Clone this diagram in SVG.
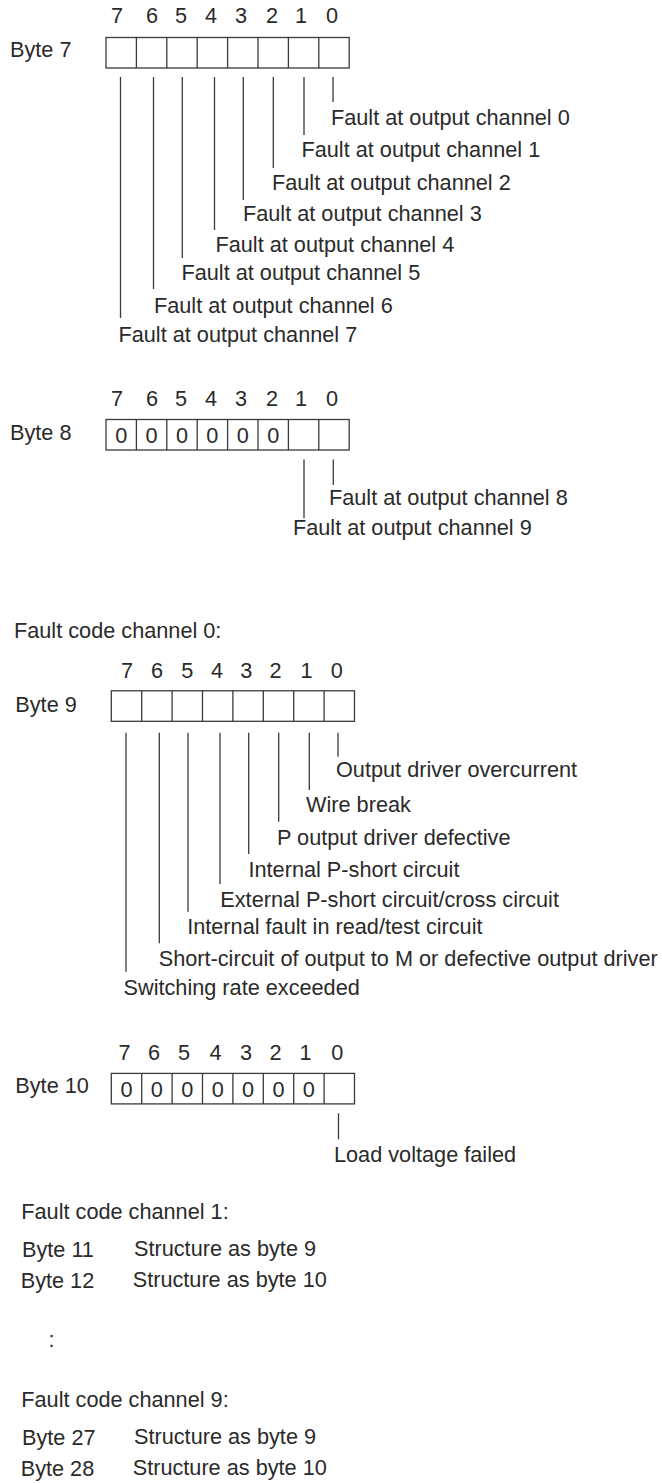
<svg xmlns="http://www.w3.org/2000/svg" width="662" height="1483" viewBox="0 0 662 1483">
<style>
text{font-family:"Liberation Sans",Arial,sans-serif;font-size:21.7px;fill:#2a2a2a}
.n{text-anchor:middle}
.box{fill:none;stroke:#3a3a3a;stroke-width:1.3}
.ln{stroke:#3a3a3a;stroke-width:1.3;fill:none}
</style>
<rect width="662" height="1483" fill="#ffffff"/>

<!-- Byte 7 -->
<g id="byte7">
<text x="10" y="57">Byte 7</text>
<g class="n"><text x="117" y="23">7</text><text x="152" y="23">6</text><text x="181" y="23">5</text><text x="211" y="23">4</text><text x="241" y="23">3</text><text x="272" y="23">2</text><text x="301" y="23">1</text><text x="332" y="23">0</text></g>
<rect class="box" x="106" y="37.5" width="243.2" height="30.5"/>
<path class="ln" d="M136.4 37.5V68M166.8 37.5V68M197.2 37.5V68M227.6 37.5V68M258 37.5V68M288.4 37.5V68M318.8 37.5V68"/>
</g>
<g id="byte7-labels">
<text x="331" y="125">Fault at output channel 0</text>
<text x="301.5" y="157">Fault at output channel 1</text>
<text x="272" y="190">Fault at output channel 2</text>
<text x="243" y="221">Fault at output channel 3</text>
<text x="215.5" y="252">Fault at output channel 4</text>
<text x="181.5" y="280">Fault at output channel 5</text>
<text x="154" y="313">Fault at output channel 6</text>
<text x="118.5" y="342">Fault at output channel 7</text>
</g>

<!-- Byte 8 -->
<g id="byte8">
<text x="10" y="440">Byte 8</text>
<g class="n"><text x="117" y="406">7</text><text x="152" y="406">6</text><text x="181" y="406">5</text><text x="211" y="406">4</text><text x="241" y="406">3</text><text x="272" y="406">2</text><text x="301" y="406">1</text><text x="332" y="406">0</text></g>
<rect class="box" x="106" y="419.5" width="243.2" height="30.5"/>
<path class="ln" d="M136.4 419.5V450M166.8 419.5V450M197.2 419.5V450M227.6 419.5V450M258 419.5V450M288.4 419.5V450M318.8 419.5V450"/>
<g class="n"><text x="121.2" y="443.3">0</text><text x="151.6" y="443.3">0</text><text x="182" y="443.3">0</text><text x="212.4" y="443.3">0</text><text x="242.8" y="443.3">0</text><text x="273.2" y="443.3">0</text></g>
</g>
<g id="byte8-labels">
<text x="329" y="505">Fault at output channel 8</text>
<text x="293" y="535">Fault at output channel 9</text>
</g>

<!-- Byte 9 -->
<g id="channel0-title"><text x="14" y="638.3">Fault code channel 0:</text></g>
<g id="byte9">
<text x="15.3" y="711.7">Byte 9</text>
<g class="n"><text x="127" y="678.3">7</text><text x="157" y="678.3">6</text><text x="187.3" y="678.3">5</text><text x="217" y="678.3">4</text><text x="246.3" y="678.3">3</text><text x="275.5" y="678.3">2</text><text x="306.5" y="678.3">1</text><text x="336.7" y="678.3">0</text></g>
<rect class="box" x="111.3" y="690.8" width="243.2" height="30.5"/>
<path class="ln" d="M141.7 690.8V721.3M172.1 690.8V721.3M202.5 690.8V721.3M232.9 690.8V721.3M263.3 690.8V721.3M293.7 690.8V721.3M324.1 690.8V721.3"/>
</g>
<g id="byte9-labels">
<text x="336" y="776.7">Output driver overcurrent</text>
<text x="306" y="811.7">Wire break</text>
<text x="277" y="845">P output driver defective</text>
<text x="248.5" y="876.7">Internal P-short circuit</text>
<text x="220.3" y="906.7">External P-short circuit/cross circuit</text>
<text x="187.2" y="934">Internal fault in read/test circuit</text>
<text x="158.7" y="966">Short-circuit of output to M or defective output driver</text>
<text x="123.5" y="995">Switching rate exceeded</text>
</g>

<!-- Byte 10 -->
<g id="byte10">
<text x="15.3" y="1093.3">Byte 10</text>
<g class="n"><text x="124.5" y="1060">7</text><text x="154" y="1060">6</text><text x="184" y="1060">5</text><text x="215.5" y="1060">4</text><text x="246" y="1060">3</text><text x="275.5" y="1060">2</text><text x="305.5" y="1060">1</text><text x="337.3" y="1060">0</text></g>
<rect class="box" x="111.3" y="1073.4" width="243.2" height="30.5"/>
<path class="ln" d="M141.7 1073.4V1103.9M172.1 1073.4V1103.9M202.5 1073.4V1103.9M232.9 1073.4V1103.9M263.3 1073.4V1103.9M293.7 1073.4V1103.9M324.1 1073.4V1103.9"/>
<g class="n"><text x="126.5" y="1096.8">0</text><text x="156.9" y="1096.8">0</text><text x="187.3" y="1096.8">0</text><text x="217.7" y="1096.8">0</text><text x="248.1" y="1096.8">0</text><text x="278.5" y="1096.8">0</text><text x="308.9" y="1096.8">0</text></g>
</g>
<g id="byte10-labels"><text x="334" y="1161.7">Load voltage failed</text></g>

<!-- connectors -->
<g id="connectors" class="ln">
<path d="M120.5 77V318M153.5 77V289M182.3 77V258M214.5 77V230M243.3 77V200M273.3 77V168M304 77V135M333 77V102"/>
<path d="M304 459.5V518.3M333.3 459.5V485"/>
<path d="M126 732.7V971.7M159.3 732.7V943.3M188 732.7V911.7M220 732.7V884M248.7 732.7V854M278.7 732.7V821.7M309.3 732.7V790M338 732.7V756.7"/>
<path d="M338.5 1113.3V1139.3"/>
</g>

<!-- following channels -->
<g id="channel1">
<text x="21.3" y="1219.3">Fault code channel 1:</text>
<text x="22" y="1256.7">Byte 11</text>
<text x="134" y="1256">Structure as byte 9</text>
<text x="20.7" y="1288.3">Byte 12</text>
<text x="132.7" y="1286.7">Structure as byte 10</text>
</g>
<g id="ellipsis"><text x="48.5" y="1347">:</text></g>
<g id="channel9">
<text x="21.3" y="1407.3">Fault code channel 9:</text>
<text x="22" y="1445">Byte 27</text>
<text x="134" y="1444">Structure as byte 9</text>
<text x="20.7" y="1476">Byte 28</text>
<text x="132.7" y="1475">Structure as byte 10</text>
</g>
</svg>
